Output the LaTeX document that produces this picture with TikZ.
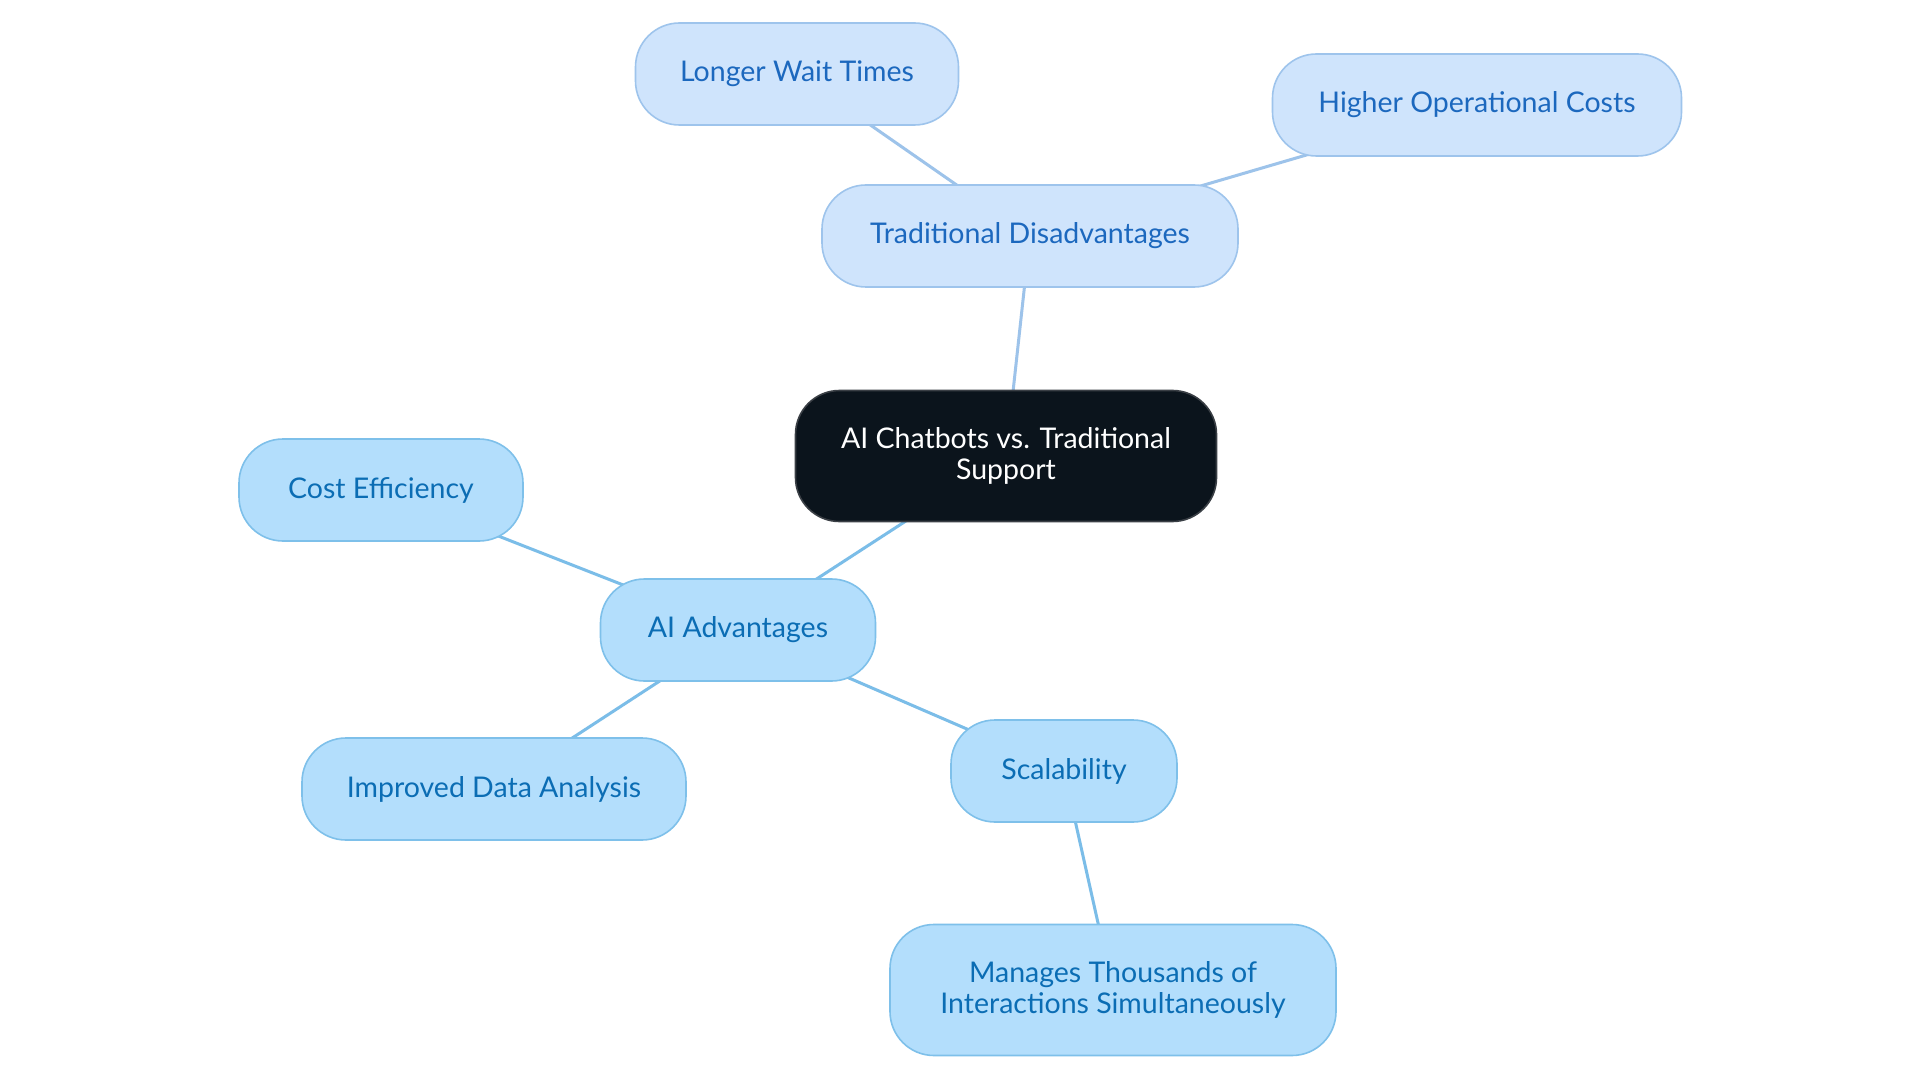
\documentclass[tikz,border=0pt]{standalone}
\usepackage{fontspec}
\setmainfont{Lato}
\usetikzlibrary{backgrounds}
\definecolor{centerfill}{HTML}{0B141C}
\definecolor{centerdraw}{HTML}{3A3F45}
\definecolor{tdfill}{HTML}{CFE4FC}
\definecolor{tddraw}{HTML}{9EC4EC}
\definecolor{tdtext}{HTML}{1C68BE}
\definecolor{aifill}{HTML}{B3DEFC}
\definecolor{aidraw}{HTML}{7EC0EA}
\definecolor{aitext}{HTML}{0B6DB4}
\definecolor{tdedge}{HTML}{9DC3EA}
\definecolor{aiedge}{HTML}{7BBDE8}
\begin{document}
\begin{tikzpicture}[x=1pt,y=-1pt,
  base/.style={rectangle, rounded corners=44pt, line width=1.6pt, align=center,
    font=\fontsize{28.5}{30.5}\selectfont, inner sep=0pt},
  centerbox/.style={base, fill=centerfill, draw=centerdraw, text=white},
  tdbox/.style={base, fill=tdfill, draw=tddraw, text=tdtext},
  aibox/.style={base, fill=aifill, draw=aidraw, text=aitext},
  tdline/.style={draw=tdedge, line width=3pt},
  ailine/.style={draw=aiedge, line width=3pt}]
\useasboundingbox (0,0) rectangle (1920,1083);
\node[centerbox, minimum width=421pt, minimum height=131pt] (c) at (1006,456) {AI Chatbots vs. Traditional\\Support};
\node[tdbox, minimum width=416pt, minimum height=102pt] (td) at (1030,236) {Traditional Disadvantages};
\node[tdbox, minimum width=323pt, minimum height=102pt] (lw) at (797,74) {Longer Wait Times};
\node[tdbox, minimum width=409pt, minimum height=102pt] (hc) at (1477,105) {Higher Operational Costs};
\node[aibox, minimum width=275pt, minimum height=102pt] (ai) at (738,630) {AI Advantages};
\node[aibox, minimum width=284pt, minimum height=102pt] (ce) at (381,490) {Cost Efficiency};
\node[aibox, minimum width=384pt, minimum height=102pt] (ida) at (494,789) {Improved Data Analysis};
\node[aibox, minimum width=226pt, minimum height=102pt] (sc) at (1064,771) {Scalability};
\node[aibox, minimum width=446pt, minimum height=131pt] (mt) at (1113,990) {Manages Thousands of\\Interactions Simultaneously};
\begin{pgfonlayer}{background}
\fill[white] (0,0) rectangle (1920,1083);
\draw[tdline] (c.center) -- (td.center);
\draw[tdline] (td.center) -- (lw.center);
\draw[tdline] (td.center) -- (hc.center);
\draw[ailine] (c.center) -- (ai.center);
\draw[ailine] (ai.center) -- (ce.center);
\draw[ailine] (ai.center) -- (ida.center);
\draw[ailine] (ai.center) -- (sc.center);
\draw[ailine] (sc.center) -- (mt.center);
\end{pgfonlayer}
\end{tikzpicture}
\end{document}
